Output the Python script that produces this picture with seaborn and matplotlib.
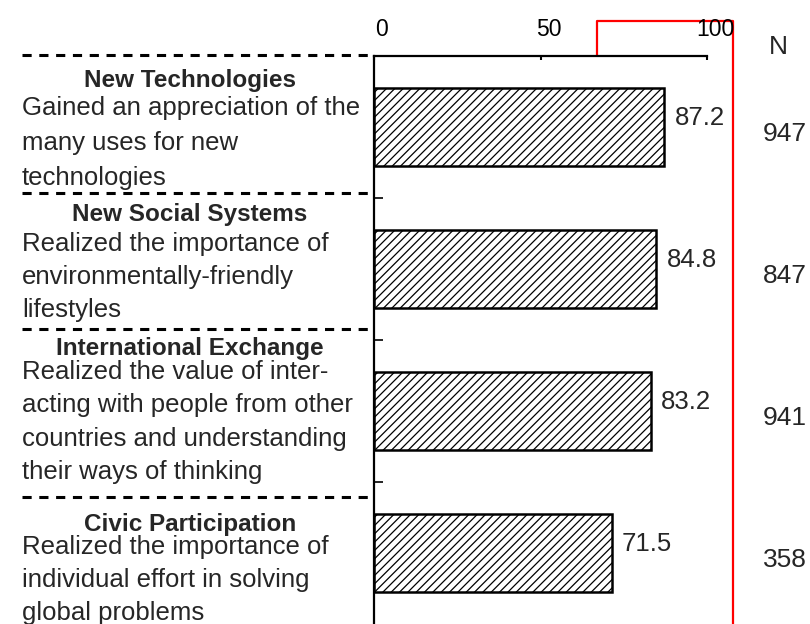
import matplotlib
matplotlib.use("Agg")
import matplotlib.pyplot as plt
import matplotlib.transforms as mtransforms
from matplotlib.lines import Line2D
import pandas as pd
import seaborn as sns


THEMES = ["New Technologies", "New Social Systems", "International Exchange", "Civic Participation"]
DESCRIPTIONS = [
    "Gained an appreciation of the\nmany uses for new\ntechnologies",
    "Realized the importance of\nenvironmentally-friendly\nlifestyles",
    "Realized the value of inter-\nacting with people from other\ncountries and understanding\ntheir ways of thinking",
    "Realized the importance of\nindividual effort in solving\nglobal problems",
]
PERCENTS = [87.2, 84.8, 83.2, 71.5]
RESPONDENTS = [947, 847, 941, 358]
X_TICKS = [0, 50, 100]

# layout of the left hand text column, in pixels from the top
HEADER_Y = [81, 215, 348, 524]
BODY_Y = [143, 277, 422, 580]
BODY_SPACING = [1.6, 1.5, 1.5, 1.48]
SEPARATOR_Y = [55, 193, 329, 497]

W, H = 810, 624


def fx(px):
    return px / W


def fy(py):
    return 1 - py / H


def main() -> None:
    sns.set_theme(style="white")
    plt.rcParams["font.family"] = ["Liberation Sans", "DejaVu Sans"]
    plt.rcParams["hatch.linewidth"] = 0.9

    df = pd.DataFrame({"theme": THEMES, "percent": PERCENTS})

    fig = plt.figure(figsize=(W / 100, H / 100), dpi=100)
    ax = fig.add_axes([fx(374), 0, 333 / W, (H - 56) / H])

    sns.barplot(
        data=df, x="percent", y="theme", orient="h", color="white", saturation=1,
        edgecolor="black", linewidth=1.8, width=0.55, ax=ax,
    )
    for patch in ax.patches:
        patch.set_hatch("////")

    ax.set_xlim(0, 100)
    ax.set_ylim(3.5, -0.5)
    ax.set_xlabel("")
    ax.set_ylabel("")

    ax.xaxis.tick_top()
    ax.set_xticks(X_TICKS)
    ax.tick_params(axis="x", top=True, bottom=False, direction="in", length=3,
                   width=1.5, labelsize=16.5, pad=11, colors="black")
    shift = mtransforms.ScaledTranslation(0.08, 0, fig.dpi_scale_trans)
    for label in ax.get_xticklabels():
        label.set_transform(label.get_transform() + shift)

    ax.set_yticks([-0.5, 0.5, 1.5, 2.5])
    ax.set_yticklabels([])
    ax.tick_params(axis="y", left=True, direction="in", length=6.5, width=1.2, colors="black")

    for side in ["right", "bottom"]:
        ax.spines[side].set_visible(False)
    for side in ["top", "left"]:
        ax.spines[side].set_color("black")
        ax.spines[side].set_linewidth(1.6)

    for patch, value in zip(ax.patches, PERCENTS):
        ax.annotate(
            f"{value:.1f}", xy=(patch.get_width(), patch.get_y() + patch.get_height() / 2),
            xytext=(10, 9), textcoords="offset pixels", ha="left", va="center", fontsize=18.5,
        )

    for i, n in enumerate(RESPONDENTS):
        ax.annotate(
            str(n), xy=(1.168, i), xycoords=ax.get_yaxis_transform(),
            xytext=(0, -7), textcoords="offset pixels", ha="left", va="center", fontsize=19,
        )
    fig.text(fx(778), fy(47), "N", ha="center", va="center", fontsize=19)

    for theme, desc, hy, by, ls in zip(THEMES, DESCRIPTIONS, HEADER_Y, BODY_Y, BODY_SPACING):
        fig.text(fx(190), fy(hy), theme, ha="center", va="center", fontsize=17.5, fontweight="bold")
        fig.text(fx(22), fy(by), desc, ha="left", va="center", fontsize=18.5, linespacing=ls)

    for y in SEPARATOR_Y:
        fig.add_artist(Line2D([fx(22), fx(372)], [fy(y), fy(y)], color="black", lw=2.2,
                              linestyle=(0, (3, 2.5)), transform=fig.transFigure))

    fig.add_artist(Line2D([fx(597), fx(597), fx(733), fx(733)], [fy(56), fy(21), fy(21), fy(630)],
                          color="red", lw=1.6, transform=fig.transFigure, zorder=-1))

    fig.savefig("out.png", dpi=100)
    plt.close(fig)


if __name__ == "__main__":
    main()
